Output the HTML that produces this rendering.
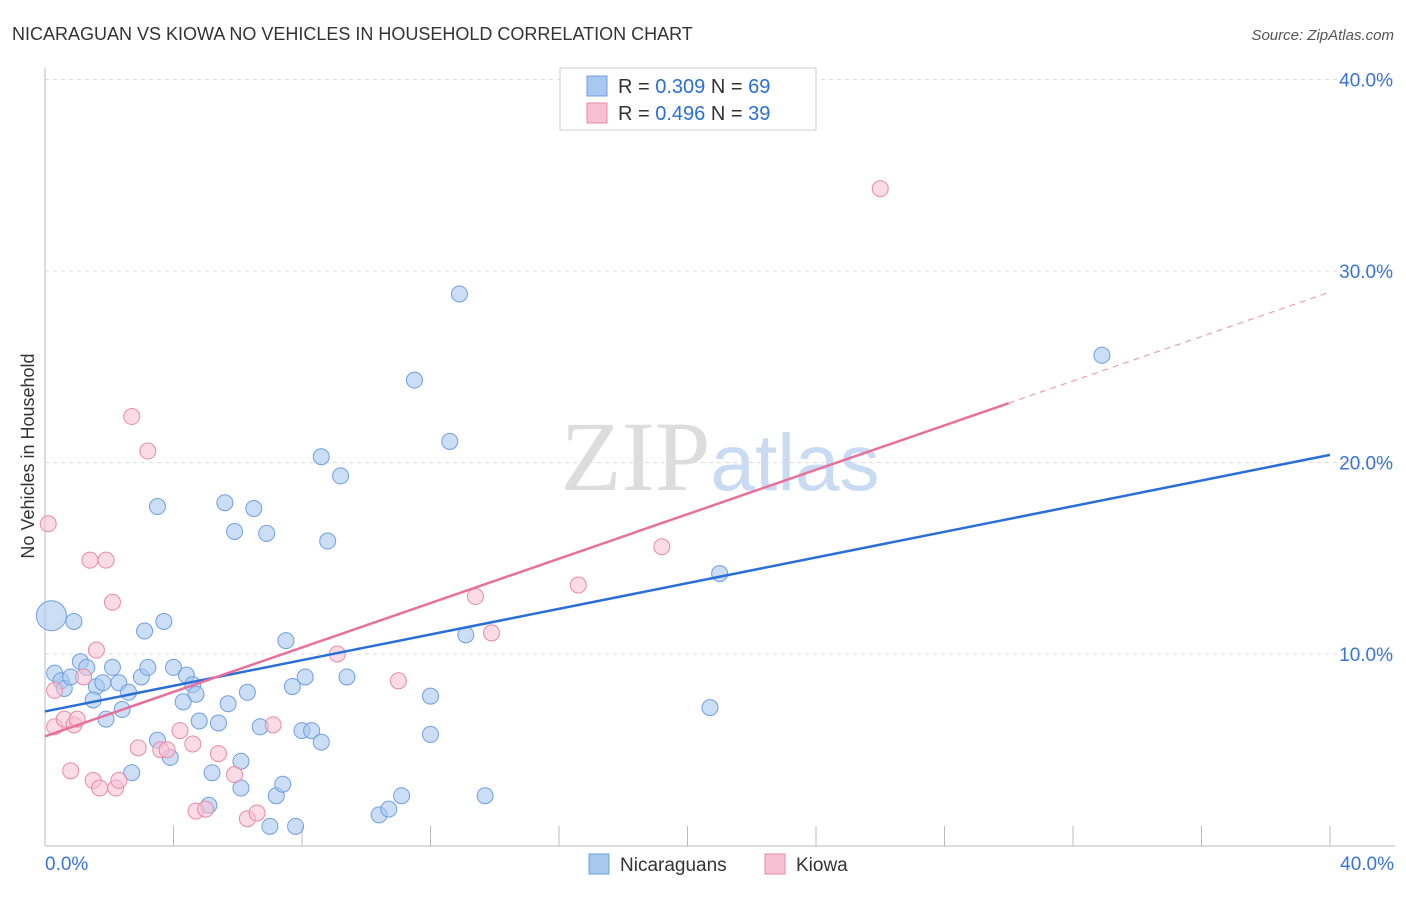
<!DOCTYPE html>
<html><head><meta charset="utf-8"><style>
body{margin:0;background:#fff;font-family:"Liberation Sans",sans-serif;}
</style></head><body>
<svg id="c" width="1406" height="892" xmlns="http://www.w3.org/2000/svg">
<text x="12" y="40" font-size="18" fill="#333">NICARAGUAN VS KIOWA NO VEHICLES IN HOUSEHOLD CORRELATION CHART</text>
<text x="1394" y="40" font-size="15" fill="#555" font-style="italic" text-anchor="end">Source: ZipAtlas.com</text>
<text x="720" y="490" font-size="100" fill="#ddd" text-anchor="middle" font-family="Liberation Serif,serif">ZIP<tspan fill="#c9dbf3" font-family="Liberation Sans,sans-serif" font-size="80">atlas</tspan></text>
<text transform="translate(34,456) rotate(-90)" font-size="18" fill="#333" text-anchor="middle">No Vehicles in Household</text>
<g id="grid"></g><g id="marks"></g>
<g>
<rect x="560" y="68" width="256" height="62" fill="#fff" stroke="#ccc"/>
<rect x="587" y="76" width="20" height="20" fill="#a9c8f0" stroke="#6f9fe0"/>
<rect x="587" y="103" width="20" height="20" fill="#f7c0d2" stroke="#e88aa8"/>
<text x="618" y="93" font-size="20" fill="#333">R = <tspan fill="#2a6fd6">0.309</tspan>   N = <tspan fill="#2a6fd6">69</tspan></text>
<text x="618" y="120" font-size="20" fill="#333">R = <tspan fill="#2a6fd6">0.496</tspan>   N = <tspan fill="#2a6fd6">39</tspan></text>
</g>
<g>
<rect x="589" y="854" width="20" height="20" fill="#a9c8f0" stroke="#6f9fe0"/>
<text x="620" y="871" font-size="19" fill="#333">Nicaraguans</text>
<rect x="765" y="854" width="20" height="20" fill="#f7c0d2" stroke="#e88aa8"/>
<text x="796" y="871" font-size="19" fill="#333">Kiowa</text>
</g>
</svg>
<script>
const yTicks=[10,20,30,40];
const yTickLabels=["10.0%","20.0%","30.0%","40.0%"];
const xTickLabels=["0.0%","40.0%"];
const blueX=[0.2,0.9,0.3,0.5,0.6,0.8,1.1,1.3,1.6,1.8,2.1,2.3,1.5,1.9,2.4,2.6,3.0,3.2,3.1,3.7,4.0,4.4,4.6,4.7,4.3,4.8,5.4,5.7,6.3,6.7,3.5,3.9,5.2,6.1,6.1,5.1,2.7,3.5,5.6,5.9,6.5,6.9,7.5,7.7,8.1,8.0,8.3,8.6,9.4,8.8,8.6,9.2,7.2,7.4,7.0,7.8,10.4,10.7,11.1,11.5,12.6,12.9,13.1,12.0,12.0,13.7,20.7,21.0,32.9];
const blueY=[12.0,11.7,9.0,8.6,8.2,8.8,9.6,9.3,8.3,8.5,9.3,8.5,7.6,6.6,7.1,8.0,8.8,9.3,11.2,11.7,9.3,8.9,8.4,7.9,7.5,6.5,6.4,7.4,8.0,6.2,5.5,4.6,3.8,4.4,3.0,2.1,3.8,17.7,17.9,16.4,17.6,16.3,10.7,8.3,8.8,6.0,6.0,5.4,8.8,15.9,20.3,19.3,2.6,3.2,1.0,1.0,1.6,1.9,2.6,24.3,21.1,28.8,11.0,7.8,5.8,2.6,7.2,14.2,25.6];
const pinkX=[0.1,0.3,0.3,0.6,0.9,1.0,0.8,1.2,1.6,1.4,1.9,2.1,2.7,3.2,1.5,1.7,2.2,2.3,2.9,3.6,3.8,4.2,4.6,4.7,5.0,5.4,5.9,6.3,6.6,7.1,9.1,11.0,13.4,13.9,16.6,19.2,26.0];
const pinkY=[16.8,8.1,6.2,6.6,6.3,6.6,3.9,8.8,10.2,14.9,14.9,12.7,22.4,20.6,3.4,3.0,3.0,3.4,5.1,5.0,5.0,6.0,5.3,1.8,1.9,4.8,3.7,1.4,1.7,6.3,10.0,8.6,13.0,11.1,13.6,15.6,34.3];
const blueTrend=[7.0,20.4];
const pinkTrend=[5.7,28.9];
const NS="http://www.w3.org/2000/svg";
const sx=v=>45+v*32.125, sy=v=>845.5-v*19.15;
const grid=document.getElementById('grid'), marks=document.getElementById('marks');
function mk(tag,attrs,parent){const e=document.createElementNS(NS,tag);for(const k in attrs)e.setAttribute(k,attrs[k]);parent.appendChild(e);return e;}
yTicks.forEach((t,i)=>{
 const l=mk('line',{x1:45,x2:1395,y1:sy(t),y2:sy(t),stroke:'#ddd','stroke-dasharray':'4,4'},grid);
 
 
 const tx=mk('text',{x:1393,y:sy(t)+7,'font-size':19,fill:'#3a73d6','text-anchor':'end'},grid);
 tx.textContent=yTickLabels[i];
 
 
});
mk('line',{x1:45,x2:45,y1:68,y2:846,stroke:'#bbb'},grid);
mk('line',{x1:45,x2:1395,y1:846,y2:846,stroke:'#bbb'},grid);
for(let i=0;i<=10;i++){mk('line',{x1:sx(i*4),x2:sx(i*4),y1:826,y2:846,stroke:'#bbb'},grid);}
[[0,'start',45],[40,'end',1394]].forEach((d,i)=>{const t=mk('text',{x:d[2],y:870,'font-size':19,fill:'#3a73d6','text-anchor':d[1]},grid);t.textContent=xTickLabels[i];
 
 });
blueX.forEach((x,i)=>{const c=mk('circle',{cx:sx(x),cy:sy(blueY[i]),r:(i===0?15:8),fill:'#a9c8f0','fill-opacity':0.6,stroke:'#6f9fe0'},marks);
 
 });
pinkX.forEach((x,i)=>{const c=mk('circle',{cx:sx(x),cy:sy(pinkY[i]),r:8,fill:'#f7c0d2','fill-opacity':0.55,stroke:'#e88aa8'},marks);
 
 });
const bl=mk('line',{x1:sx(0),y1:sy(blueTrend[0]),x2:sx(40),y2:sy(blueTrend[1]),stroke:'#2a6fd6','stroke-width':2.5},marks);


const pm=pinkTrend[0]+(pinkTrend[1]-pinkTrend[0])*30/40;
const pl=mk('line',{x1:sx(0),y1:sy(pinkTrend[0]),x2:sx(30),y2:sy(pm),stroke:'#e8709a','stroke-width':2.5},marks);


const pd=mk('line',{x1:sx(30),y1:sy(pm),x2:sx(40),y2:sy(pinkTrend[1]),stroke:'#e8a0b8','stroke-width':1.2,'stroke-dasharray':'6,5'},marks);


</script>
</body></html>
